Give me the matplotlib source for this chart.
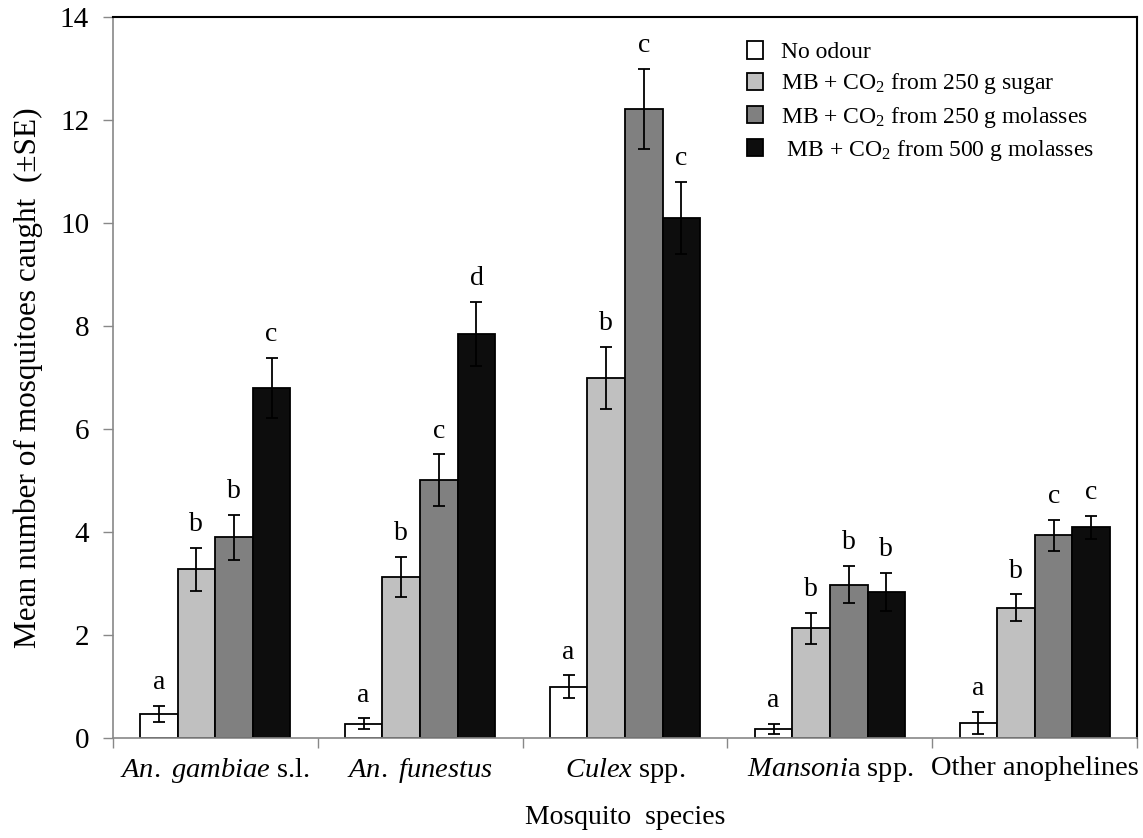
import matplotlib
matplotlib.use("Agg")
import matplotlib.pyplot as plt
import numpy as np
from matplotlib.patches import Patch

plt.rcParams['font.family'] = ['Liberation Serif', 'DejaVu Serif']
plt.rcParams['mathtext.fontset'] = 'custom'
plt.rcParams['mathtext.rm'] = 'Liberation Serif'
plt.rcParams['mathtext.it'] = 'Liberation Serif:italic'

categories = [r"$\mathit{An.\ gambiae}$ s.l.", r"$\mathit{An.\ funestus}$",
              r"$\mathit{Culex}$ spp.", r"$\mathit{Mansoni}$a spp.", "Other anophelines"]
series_names = ["No odour", r"MB + CO$_2$ from 250 g sugar",
                r"MB + CO$_2$ from 250 g molasses", r" MB + CO$_2$ from 500 g molasses"]
colors = ["#ffffff", "#c0c0c0", "#808080", "#0d0d0d"]

no_odour = [0.47, 0.28, 1.00, 0.17, 0.29]
sugar_250 = [3.28, 3.13, 7.00, 2.13, 2.53]
molasses_250 = [3.90, 5.01, 12.22, 2.98, 3.94]
molasses_500 = [6.80, 7.85, 10.11, 2.84, 4.09]

se_no_odour = [0.16, 0.10, 0.22, 0.10, 0.22]
se_sugar_250 = [0.42, 0.39, 0.60, 0.30, 0.26]
se_molasses_250 = [0.44, 0.50, 0.78, 0.36, 0.30]
se_molasses_500 = [0.58, 0.63, 0.70, 0.37, 0.22]

letters_no_odour = ["a", "a", "a", "a", "a"]
letters_sugar_250 = ["b", "b", "b", "b", "b"]
letters_molasses_250 = ["b", "c", "c", "b", "c"]
letters_molasses_500 = ["c", "d", "c", "b", "c"]

values = [no_odour, sugar_250, molasses_250, molasses_500]
errors = [se_no_odour, se_sugar_250, se_molasses_250, se_molasses_500]
letters = [letters_no_odour, letters_sugar_250, letters_molasses_250, letters_molasses_500]

fig = plt.figure(figsize=(11.43, 8.38), dpi=100)
ax = fig.add_axes([0.0986, 0.1193, 0.8964, 0.8600])

x = np.arange(len(categories))
w = 0.1835
for j in range(4):
    pos = x + (j - 1.5) * w
    ax.bar(pos, values[j], width=w, color=colors[j], edgecolor='black', linewidth=1.3, zorder=2)
    ax.errorbar(pos, values[j], yerr=errors[j], fmt='none', ecolor='black',
                elinewidth=1.3, capsize=4, capthick=1.3, zorder=3)
    for p, v, e, t in zip(pos, values[j], errors[j], letters[j]):
        ax.annotate(t, (p, v + e), xytext=(0, 12), textcoords='offset points',
                    ha='center', va='baseline', fontsize=20)

ax.set_xlim(-0.5, len(categories) - 0.5)
ax.set_ylim(0, 14)
ax.set_yticks(np.arange(0, 15, 2))
ax.set_xticks(x)
ax.set_xticklabels(categories, fontsize=20.5)
ax.set_xticks(np.arange(-0.5, len(categories), 1), minor=True)
ax.tick_params(axis='x', which='major', length=0, pad=13)
ax.tick_params(axis='x', which='minor', length=7, width=1, color='#888888', direction='out')
ax.tick_params(axis='y', labelsize=21, length=7, width=1, color='#888888', pad=10)

for s in ['left', 'bottom']:
    ax.spines[s].set_color('#888888')
    ax.spines[s].set_linewidth(1.2)
for s in ['top', 'right']:
    ax.spines[s].set_color('black')
    ax.spines[s].set_linewidth(1.5)

ax.set_ylabel("Mean number of mosquitoes caught  (±SE)", fontsize=22.5, labelpad=12)
ax.set_xlabel("Mosquito  species", fontsize=20, labelpad=14)

handles = [Patch(facecolor=c, edgecolor='black', linewidth=1.3) for c in colors]
ax.legend(handles, series_names, loc='upper left', bbox_to_anchor=(0.645, 0.962),
          bbox_transform=fig.transFigure, frameon=False, fontsize=17,
          handlelength=0.7, handleheight=0.75, handletextpad=0.75, labelspacing=0.35,
          borderaxespad=0)

fig.savefig("out.png", dpi=100)
